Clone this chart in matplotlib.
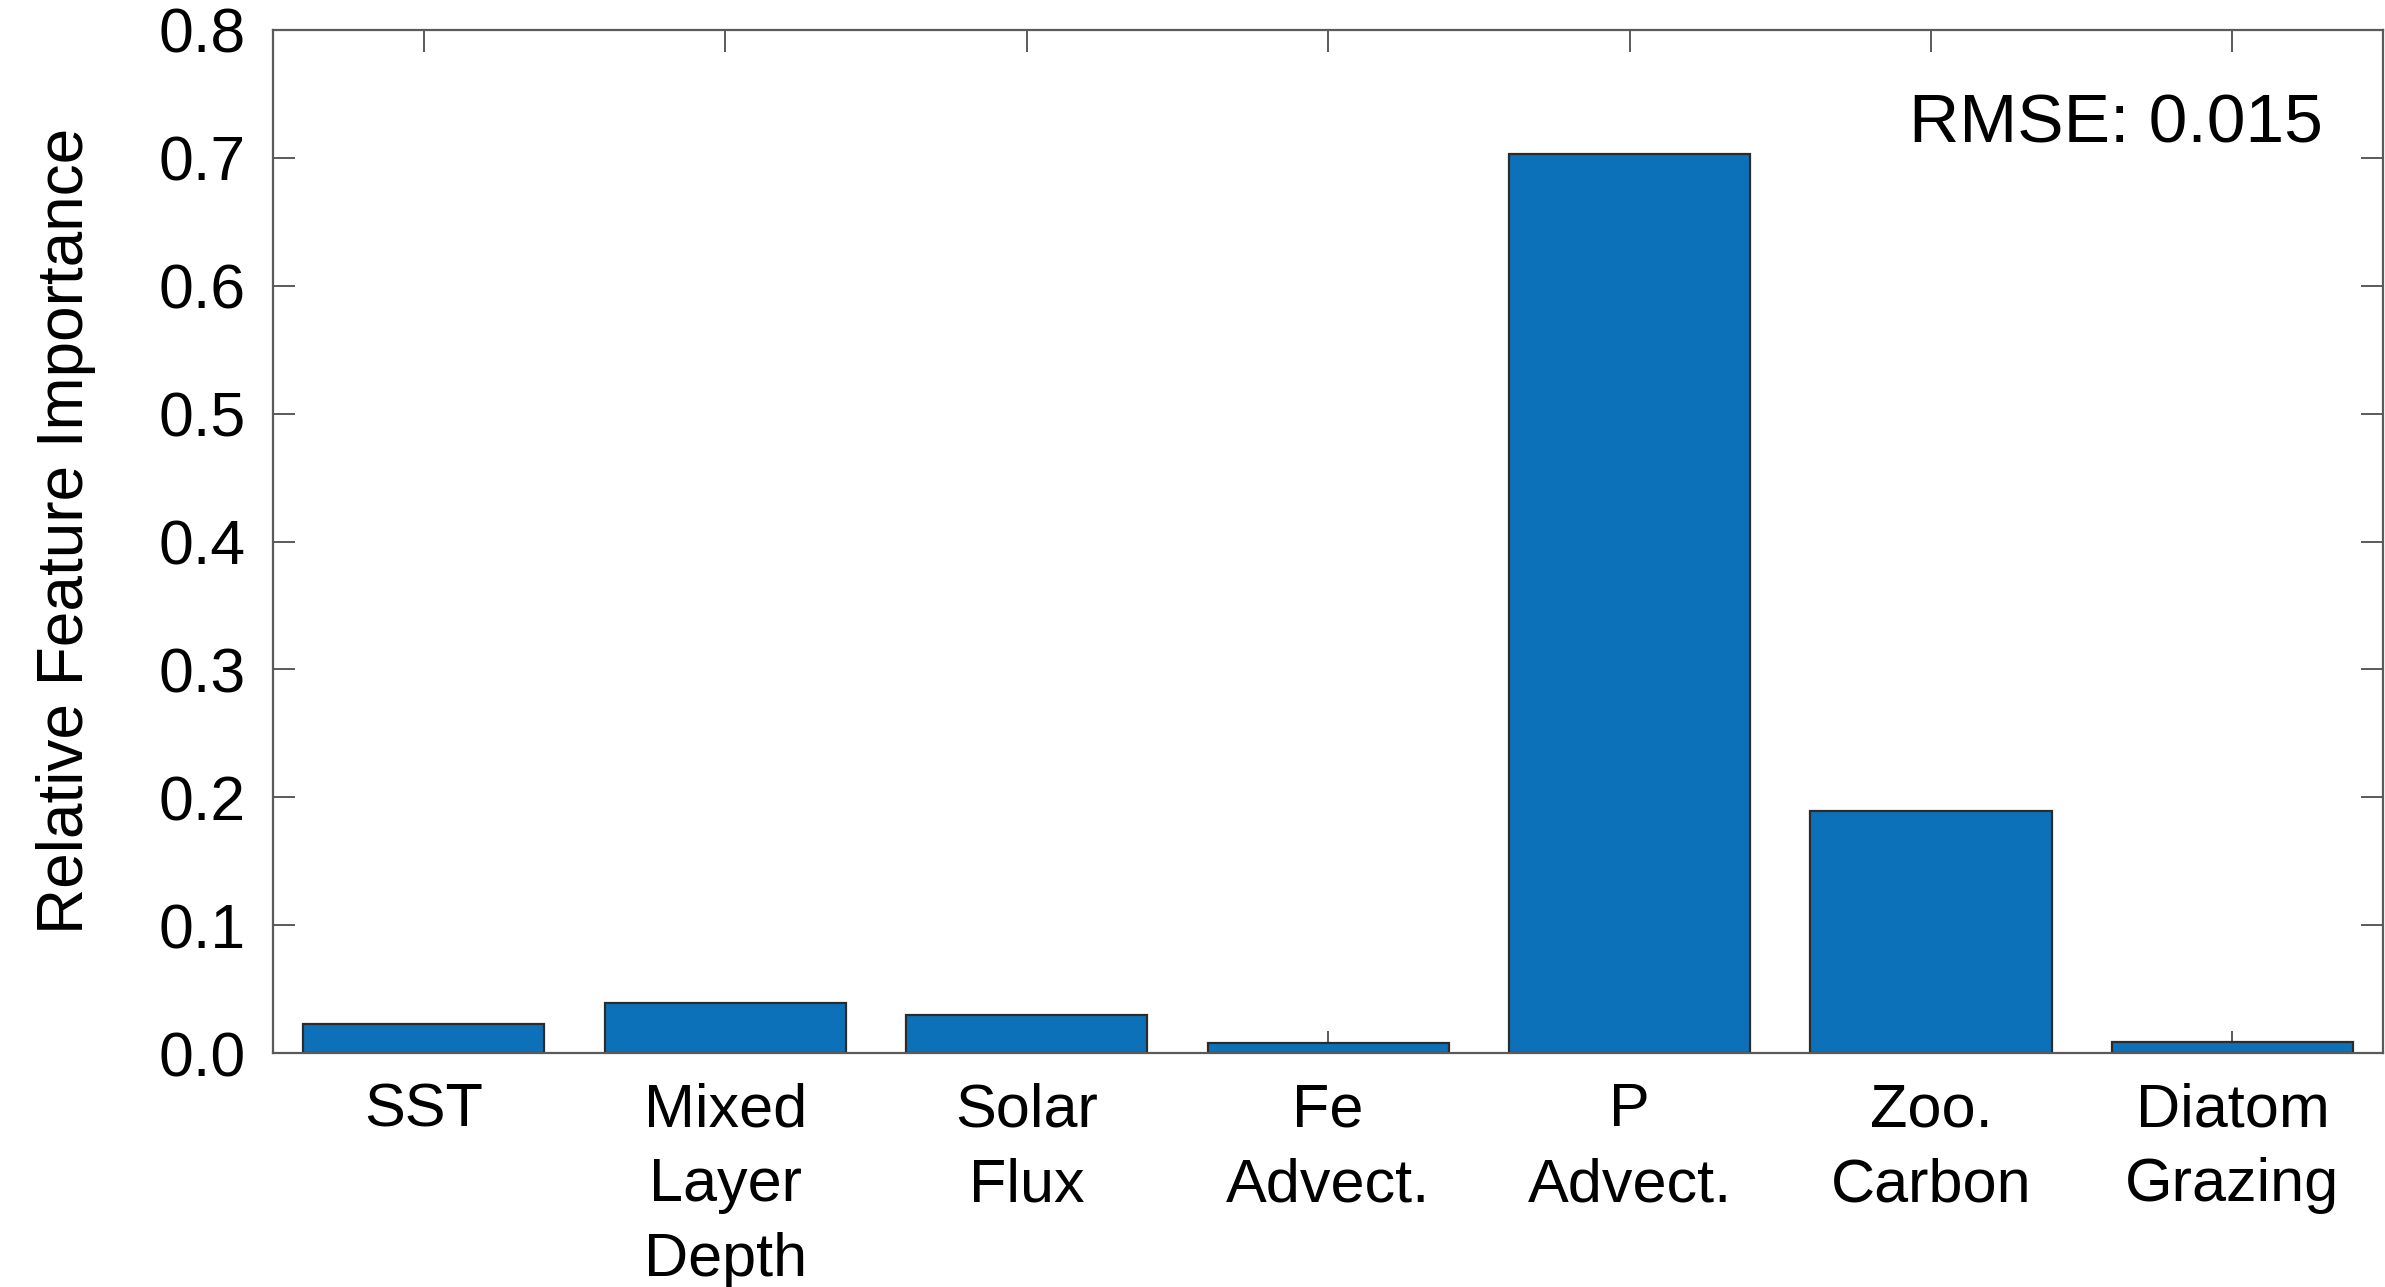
import matplotlib
matplotlib.use("Agg")
import matplotlib.pyplot as plt

# feature names and importances
features = ["SST", "Mixed\nLayer\nDepth", "Solar\nFlux", "Fe\nAdvect.",
            "P\nAdvect.", "Zoo.\nCarbon", "Diatom\nGrazing"]
importance = [0.023, 0.039, 0.030, 0.008, 0.703, 0.189, 0.009]
rmse_label = "RMSE: 0.015"
yticks = [0.0, 0.1, 0.2, 0.3, 0.4, 0.5, 0.6, 0.7, 0.8]

plt.rcParams['font.family'] = ['Liberation Sans', 'DejaVu Sans']

fig = plt.figure(figsize=(23.85, 12.87), dpi=100)
ax = fig.add_axes([0.1145, 0.1818, 0.8847, 0.7949])

x = list(range(1, len(features) + 1))
ax.bar(x, importance, width=0.8, color='#0D71B9', edgecolor='#2b2b2b',
       linewidth=1.6, zorder=2)

ax.set_xlim(0.5, len(features) + 0.5)
ax.set_ylim(0, 0.8)
ax.set_xticks(x)
ax.set_xticklabels(features, fontsize=44, linespacing=1.41)
ax.set_yticks(yticks)
ax.set_yticklabels([f"{v:.1f}" for v in yticks], fontsize=45)

axcol = '#5a5a5a'
for s in ax.spines.values():
    s.set_color(axcol)
    s.set_linewidth(1.6)
ax.tick_params(axis='both', direction='in', length=15.5, width=1.4,
               color=axcol, top=True, right=True)
ax.tick_params(axis='y', pad=20)
ax.tick_params(axis='x', pad=21)
for t in ax.get_xticklines() + ax.get_yticklines():
    t.set_zorder(3)

ax.set_ylabel("Relative Feature Importance", fontsize=46)
ax.yaxis.set_label_coords(-0.084, 0.51)

ax.text(0.9716, 0.8905, rmse_label, transform=ax.transAxes, fontsize=50,
        ha='right', va='baseline')

fig.savefig("out.png", dpi=100)
